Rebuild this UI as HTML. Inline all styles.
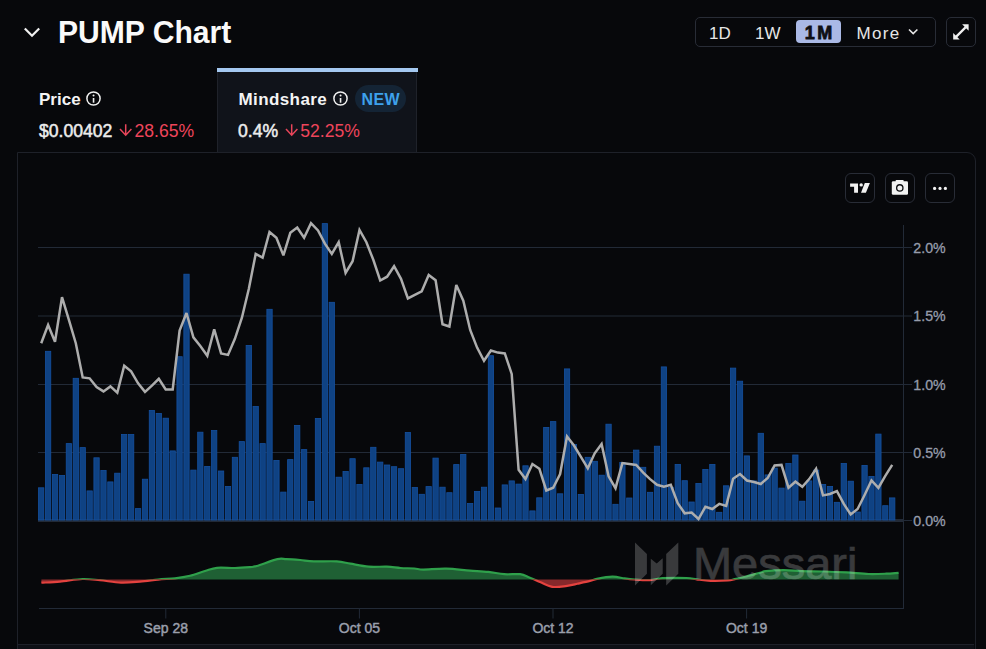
<!DOCTYPE html>
<html><head><meta charset="utf-8"><style>
html,body{margin:0;padding:0;}
body{width:986px;height:649px;overflow:hidden;background:#07080b;position:relative;font-family:"Liberation Sans",sans-serif;color:#f2f2f2;}
.a{position:absolute;white-space:nowrap;}
#title{left:57.5px;top:14.2px;font-size:32px;font-weight:bold;color:#fafafa;line-height:36px;transform:scaleX(0.94);transform-origin:0 0;}
#rg{left:695px;top:17px;width:239px;height:28px;border:1px solid #282c36;border-radius:5px;}
.rb{position:absolute;top:1.5px;height:28px;line-height:28px;font-size:17px;color:#e6e6e6;}
#m1{left:100px;top:2px;width:45px;height:23px;background:#aab9e6;border-radius:4px;color:#0e0f14;font-weight:bold;text-align:center;line-height:26px;font-size:18px;letter-spacing:2.6px;text-indent:2.6px;-webkit-text-stroke:0.8px #0e0f14;}
#exp{left:946px;top:17px;width:28px;height:28px;border:1px solid #282c36;border-radius:5px;}
#tab2{left:217px;top:68px;width:200px;height:84px;background:#10131a;border-left:1px solid #1f222a;border-right:1px solid #1f222a;box-sizing:border-box;}
#tab2bar{left:217px;top:68px;width:201px;height:4px;background:#a4c8f0;}
.lab{font-size:17px;font-weight:bold;color:#f4f4f4;}
.val{font-size:17.6px;color:#ededed;}
.wv{-webkit-text-stroke:0.5px #ededed;}
.red{color:#ee455b;}
#box{left:17px;top:152px;width:959px;height:520px;border:1px solid #1e2129;border-radius:0 9px 0 0;box-sizing:border-box;}
.tb{position:absolute;top:173px;width:28px;height:28px;border:1px solid #282c36;border-radius:6px;}
#newb{left:355px;top:85px;width:51px;height:27px;border-radius:14px;background:#142435;color:#3da1ec;font-weight:bold;font-size:16px;line-height:30.5px;text-align:center;letter-spacing:0.4px;text-indent:0.4px;}
</style></head><body>
<svg class="a" style="left:0;top:0" width="986" height="649">
<path d="M24.8,28.5 L32,35.8 L39.2,28.5" fill="none" stroke="#f0f0f0" stroke-width="2.2"/>
</svg>
<div class="a" id="title">PUMP Chart</div>
<div class="a" id="rg">
 <div class="rb" style="left:13px">1D</div>
 <div class="rb" style="left:59px">1W</div>
 <div class="rb" id="m1">1M</div>
 <div class="rb" style="left:160.5px;letter-spacing:1.3px">More</div>
 <svg class="a" style="left:212px;top:10px" width="12" height="8"><path d="M1,1.5 L5.2,5.6 L9.4,1.5" fill="none" stroke="#e6e6e6" stroke-width="1.6"/></svg>
</div>
<div class="a" id="exp"><svg width="28" height="28" style="position:absolute;left:0;top:0">
<path d="M9,18.9 L18.8,9.1" stroke="#f0f0f0" stroke-width="2.2"/>
<path d="M15.1,6.2 L21.6,6.2 L21.6,12.7 Z" fill="#f0f0f0"/>
<path d="M6.2,15.1 L6.2,21.6 L12.7,21.6 Z" fill="#f0f0f0"/>
</svg></div>

<div class="a" id="tab2"></div>
<div class="a" id="tab2bar"></div>
<div class="a lab" style="left:39px;top:90px">Price</div>
<svg class="a" style="left:86.2px;top:91.2px" width="15" height="15"><circle cx="7.5" cy="7.5" r="6.6" fill="none" stroke="#f0f0f0" stroke-width="1.5"/><rect x="6.75" y="7" width="1.6" height="4.7" fill="#f0f0f0"/><circle cx="7.55" cy="4.6" r="1" fill="#f0f0f0"/></svg>
<div class="a val wv" style="left:39px;top:120.5px">$0.00402</div>
<svg class="a" style="left:118px;top:122px" width="16" height="16"><path d="M7.7,2.2 V13.2 M2,7.1 L7.7,13.2 L13.4,7.1" fill="none" stroke="#e8455a" stroke-width="1.5"/></svg>
<div class="a val red" style="left:134.5px;top:120.5px">28.65%</div>
<div class="a lab" style="left:238.5px;top:90px;letter-spacing:0.4px">Mindshare</div>
<svg class="a" style="left:333.2px;top:91.2px" width="15" height="15"><circle cx="7.5" cy="7.5" r="6.6" fill="none" stroke="#f0f0f0" stroke-width="1.5"/><rect x="6.75" y="7" width="1.6" height="4.7" fill="#f0f0f0"/><circle cx="7.55" cy="4.6" r="1" fill="#f0f0f0"/></svg>
<div class="a" id="newb">NEW</div>
<div class="a val wv" style="left:238px;top:120.5px">0.4%</div>
<svg class="a" style="left:283.6px;top:122px" width="16" height="16"><path d="M7.7,2.2 V13.2 M2,7.1 L7.7,13.2 L13.4,7.1" fill="none" stroke="#e8455a" stroke-width="1.5"/></svg>
<div class="a val red" style="left:300.2px;top:120.5px">52.25%</div>

<div class="a" id="box"></div>
<div class="a" style="left:18px;top:644px;width:956px;height:1px;background:#1e2129"></div>
<div class="a" style="left:18px;top:645px;width:956px;height:4px;background:#0e1016"></div>

<div class="tb" style="left:845px"><svg width="28" height="28" style="position:absolute;left:0;top:0">
<path d="M4.1,9.4 H12 V18.8 H8.1 V12.8 H4.1 Z" fill="#f2f2f2"/><circle cx="15.2" cy="10.9" r="1.7" fill="#f2f2f2"/><path d="M18.8,9 H23.9 L19.9,18.8 H15 Z" fill="#f2f2f2"/>
</svg></div>
<div class="tb" style="left:885px"><svg width="28" height="28" style="position:absolute;left:0;top:0">
<rect x="5.8" y="7.3" width="16.2" height="13.5" rx="1.3" fill="#f2f2f2"/><rect x="9.6" y="5.9" width="8.1" height="2.5" rx="0.8" fill="#f2f2f2"/><circle cx="13.8" cy="13.9" r="3.8" fill="#0a0b0e"/><circle cx="13.8" cy="13.9" r="2.5" fill="#f2f2f2"/>
</svg></div>
<div class="tb" style="left:925px"><svg width="28" height="28" style="position:absolute;left:0;top:0">
<circle cx="8.6" cy="14.4" r="1.6" fill="#f2f2f2"/><circle cx="14" cy="14.4" r="1.6" fill="#f2f2f2"/><circle cx="19.4" cy="14.4" r="1.6" fill="#f2f2f2"/>
</svg></div>

<svg class="a" style="left:0;top:0" width="986" height="649">
<defs>
<clipPath id="above"><rect x="0" y="0" width="986" height="579.5"/></clipPath>
<clipPath id="below"><rect x="0" y="579.5" width="986" height="70"/></clipPath>
</defs>
<g stroke="#222a37" stroke-width="1"><line x1="38" y1="247.5" x2="912" y2="247.5"/><line x1="38" y1="316.0" x2="912" y2="316.0"/><line x1="38" y1="384.5" x2="912" y2="384.5"/><line x1="38" y1="452.5" x2="912" y2="452.5"/></g>
<line x1="903.5" y1="225" x2="903.5" y2="608.5" stroke="#222a37" stroke-width="1"/>
<line x1="39" y1="608.5" x2="904" y2="608.5" stroke="#222a37" stroke-width="1"/>
<g stroke="#222a37" stroke-width="1"><line x1="165.8" y1="608.5" x2="165.8" y2="618.5"/><line x1="359.4" y1="608.5" x2="359.4" y2="618.5"/><line x1="553.0" y1="608.5" x2="553.0" y2="618.5"/><line x1="746.6" y1="608.5" x2="746.6" y2="618.5"/></g>
<line x1="38" y1="520.5" x2="903" y2="520.5" stroke="#222a37" stroke-width="3"/>
<line x1="903" y1="520.5" x2="912" y2="520.5" stroke="#222a37" stroke-width="1"/>
<g fill="#0f4283" stroke="#1450a0" stroke-width="0.8"><rect x="38.55" y="487.8" width="5.30" height="32.2"/>
<rect x="45.47" y="351.3" width="5.30" height="168.7"/>
<rect x="52.39" y="474.4" width="5.30" height="45.6"/>
<rect x="59.31" y="475.5" width="5.30" height="44.5"/>
<rect x="66.23" y="443.6" width="5.30" height="76.4"/>
<rect x="73.15" y="378.3" width="5.30" height="141.7"/>
<rect x="80.06" y="447.6" width="5.30" height="72.4"/>
<rect x="86.98" y="490.9" width="5.30" height="29.1"/>
<rect x="93.90" y="457.8" width="5.30" height="62.2"/>
<rect x="100.82" y="470.4" width="5.30" height="49.6"/>
<rect x="107.74" y="481.9" width="5.30" height="38.1"/>
<rect x="114.66" y="473.2" width="5.30" height="46.8"/>
<rect x="121.58" y="434.5" width="5.30" height="85.5"/>
<rect x="128.50" y="434.5" width="5.30" height="85.5"/>
<rect x="135.42" y="508.6" width="5.30" height="11.4"/>
<rect x="142.34" y="479.2" width="5.30" height="40.8"/>
<rect x="149.25" y="410.5" width="5.30" height="109.5"/>
<rect x="156.17" y="413.4" width="5.30" height="106.6"/>
<rect x="163.09" y="418.2" width="5.30" height="101.8"/>
<rect x="170.01" y="450.9" width="5.30" height="69.1"/>
<rect x="176.93" y="356.7" width="5.30" height="163.3"/>
<rect x="183.85" y="274.2" width="5.30" height="245.8"/>
<rect x="190.77" y="470.1" width="5.30" height="49.9"/>
<rect x="197.69" y="432.2" width="5.30" height="87.8"/>
<rect x="204.61" y="466.4" width="5.30" height="53.6"/>
<rect x="211.53" y="430.5" width="5.30" height="89.5"/>
<rect x="218.44" y="471.0" width="5.30" height="49.0"/>
<rect x="225.36" y="486.4" width="5.30" height="33.6"/>
<rect x="232.28" y="457.3" width="5.30" height="62.7"/>
<rect x="239.20" y="441.6" width="5.30" height="78.4"/>
<rect x="246.12" y="345.4" width="5.30" height="174.6"/>
<rect x="253.04" y="406.5" width="5.30" height="113.5"/>
<rect x="259.96" y="443.6" width="5.30" height="76.4"/>
<rect x="266.88" y="309.3" width="5.30" height="210.7"/>
<rect x="273.80" y="460.4" width="5.30" height="59.6"/>
<rect x="280.71" y="492.1" width="5.30" height="27.9"/>
<rect x="287.63" y="459.6" width="5.30" height="60.4"/>
<rect x="294.55" y="425.4" width="5.30" height="94.6"/>
<rect x="301.47" y="449.6" width="5.30" height="70.4"/>
<rect x="308.39" y="501.4" width="5.30" height="18.6"/>
<rect x="315.31" y="418.5" width="5.30" height="101.5"/>
<rect x="322.23" y="223.6" width="5.30" height="296.4"/>
<rect x="329.15" y="302.3" width="5.30" height="217.7"/>
<rect x="336.07" y="477.2" width="5.30" height="42.8"/>
<rect x="342.99" y="471.5" width="5.30" height="48.5"/>
<rect x="349.90" y="458.7" width="5.30" height="61.3"/>
<rect x="356.82" y="484.4" width="5.30" height="35.6"/>
<rect x="363.74" y="467.8" width="5.30" height="52.2"/>
<rect x="370.66" y="447.3" width="5.30" height="72.7"/>
<rect x="377.58" y="462.1" width="5.30" height="57.9"/>
<rect x="384.50" y="465.0" width="5.30" height="55.0"/>
<rect x="391.42" y="466.7" width="5.30" height="53.3"/>
<rect x="398.34" y="468.7" width="5.30" height="51.3"/>
<rect x="405.26" y="432.5" width="5.30" height="87.5"/>
<rect x="412.18" y="487.5" width="5.30" height="32.5"/>
<rect x="419.09" y="494.3" width="5.30" height="25.7"/>
<rect x="426.01" y="486.6" width="5.30" height="33.4"/>
<rect x="432.93" y="458.1" width="5.30" height="61.9"/>
<rect x="439.85" y="487.2" width="5.30" height="32.8"/>
<rect x="446.77" y="492.7" width="5.30" height="27.3"/>
<rect x="453.69" y="464.6" width="5.30" height="55.4"/>
<rect x="460.61" y="454.4" width="5.30" height="65.6"/>
<rect x="467.53" y="503.5" width="5.30" height="16.5"/>
<rect x="474.45" y="491.5" width="5.30" height="28.5"/>
<rect x="481.37" y="487.2" width="5.30" height="32.8"/>
<rect x="488.28" y="355.7" width="5.30" height="164.3"/>
<rect x="495.20" y="508.0" width="5.30" height="12.0"/>
<rect x="502.12" y="484.9" width="5.30" height="35.1"/>
<rect x="509.04" y="480.9" width="5.30" height="39.1"/>
<rect x="515.96" y="484.1" width="5.30" height="35.9"/>
<rect x="522.88" y="465.8" width="5.30" height="54.2"/>
<rect x="529.80" y="510.9" width="5.30" height="9.1"/>
<rect x="536.72" y="497.8" width="5.30" height="22.2"/>
<rect x="543.64" y="427.4" width="5.30" height="92.6"/>
<rect x="550.56" y="421.6" width="5.30" height="98.4"/>
<rect x="557.47" y="493.8" width="5.30" height="26.2"/>
<rect x="564.39" y="368.9" width="5.30" height="151.1"/>
<rect x="571.31" y="444.4" width="5.30" height="75.6"/>
<rect x="578.23" y="494.4" width="5.30" height="25.6"/>
<rect x="585.15" y="457.3" width="5.30" height="62.7"/>
<rect x="592.07" y="461.3" width="5.30" height="58.7"/>
<rect x="598.99" y="475.2" width="5.30" height="44.8"/>
<rect x="605.91" y="424.2" width="5.30" height="95.8"/>
<rect x="612.83" y="504.3" width="5.30" height="15.7"/>
<rect x="619.75" y="462.4" width="5.30" height="57.6"/>
<rect x="626.66" y="498.0" width="5.30" height="22.0"/>
<rect x="633.58" y="450.1" width="5.30" height="69.9"/>
<rect x="640.50" y="467.3" width="5.30" height="52.7"/>
<rect x="647.42" y="492.3" width="5.30" height="27.7"/>
<rect x="654.34" y="446.2" width="5.30" height="73.8"/>
<rect x="661.26" y="366.9" width="5.30" height="153.1"/>
<rect x="668.18" y="487.2" width="5.30" height="32.8"/>
<rect x="675.10" y="464.4" width="5.30" height="55.6"/>
<rect x="682.02" y="480.7" width="5.30" height="39.3"/>
<rect x="688.94" y="502.0" width="5.30" height="18.0"/>
<rect x="695.85" y="483.5" width="5.30" height="36.5"/>
<rect x="702.77" y="469.5" width="5.30" height="50.5"/>
<rect x="709.69" y="464.4" width="5.30" height="55.6"/>
<rect x="716.61" y="512.3" width="5.30" height="7.7"/>
<rect x="723.53" y="485.8" width="5.30" height="34.2"/>
<rect x="730.45" y="368.1" width="5.30" height="151.9"/>
<rect x="737.37" y="381.2" width="5.30" height="138.8"/>
<rect x="744.29" y="455.9" width="5.30" height="64.1"/>
<rect x="751.21" y="480.9" width="5.30" height="39.1"/>
<rect x="758.13" y="433.3" width="5.30" height="86.7"/>
<rect x="765.04" y="474.9" width="5.30" height="45.1"/>
<rect x="771.96" y="468.1" width="5.30" height="51.9"/>
<rect x="778.88" y="488.1" width="5.30" height="31.9"/>
<rect x="785.80" y="463.5" width="5.30" height="56.5"/>
<rect x="792.72" y="455.0" width="5.30" height="65.0"/>
<rect x="799.64" y="501.2" width="5.30" height="18.8"/>
<rect x="806.56" y="480.9" width="5.30" height="39.1"/>
<rect x="813.48" y="470.1" width="5.30" height="49.9"/>
<rect x="820.40" y="484.4" width="5.30" height="35.6"/>
<rect x="827.32" y="486.4" width="5.30" height="33.6"/>
<rect x="834.23" y="502.3" width="5.30" height="17.7"/>
<rect x="841.15" y="463.5" width="5.30" height="56.5"/>
<rect x="848.07" y="481.2" width="5.30" height="38.8"/>
<rect x="854.99" y="512.0" width="5.30" height="8.0"/>
<rect x="861.91" y="465.4" width="5.30" height="54.6"/>
<rect x="868.83" y="476.4" width="5.30" height="43.6"/>
<rect x="875.75" y="434.1" width="5.30" height="85.9"/>
<rect x="882.67" y="505.7" width="5.30" height="14.3"/>
<rect x="889.59" y="497.9" width="5.30" height="22.1"/></g>
<polyline points="41.2,343.2 48.1,325.0 55.0,341.7 62.0,297.2 68.9,319.8 75.8,343.2 82.7,377.4 89.6,378.3 96.6,387.1 103.5,391.4 110.4,386.4 117.3,392.7 124.2,365.7 131.1,371.4 138.1,383.3 145.0,391.9 151.9,385.6 158.8,378.8 165.7,389.5 172.7,389.5 179.6,330.6 186.5,313.0 193.4,337.3 200.3,346.1 207.3,355.8 214.2,329.4 221.1,353.4 228.0,354.9 234.9,338.8 241.9,317.7 248.8,289.0 255.7,253.9 262.6,257.7 269.5,232.0 276.4,237.8 283.4,255.4 290.3,232.8 297.2,227.6 304.1,237.8 311.0,223.2 318.0,230.5 324.9,243.7 331.8,253.9 338.7,242.2 345.6,272.9 352.6,261.2 359.5,229.9 366.4,242.2 373.3,259.8 380.2,280.5 387.1,276.7 394.1,266.2 401.0,278.8 407.9,298.4 414.8,294.9 421.7,291.4 428.7,275.0 435.6,280.3 442.5,324.2 449.4,326.5 456.3,285.0 463.3,300.7 470.2,330.0 477.1,347.6 484.0,360.8 490.9,350.5 497.9,352.6 504.8,353.4 511.7,373.9 518.6,469.7 525.5,479.0 532.4,464.0 539.4,468.8 546.3,490.5 553.2,487.7 560.1,474.0 567.0,436.4 574.0,445.5 580.9,456.9 587.8,468.3 594.7,453.3 601.6,444.0 608.6,476.3 615.5,488.2 622.4,463.1 629.3,464.0 636.2,464.9 643.2,472.6 650.1,479.1 657.0,484.8 663.9,486.8 670.8,484.8 677.7,503.1 684.7,513.3 691.6,512.5 698.5,519.0 705.4,506.8 712.3,509.0 719.3,503.9 726.2,505.9 733.1,478.7 740.0,474.0 746.9,480.5 753.9,482.0 760.8,484.0 767.7,478.0 774.6,465.4 781.5,464.9 788.5,487.7 795.4,481.7 802.3,486.8 809.2,479.1 816.1,468.8 823.0,495.4 830.0,494.0 836.9,491.1 843.8,503.9 850.7,514.5 857.6,509.0 864.6,495.0 871.5,480.5 878.4,487.8 885.3,475.9 892.2,464.9" fill="none" stroke="#adadad" stroke-width="2.5" stroke-linejoin="miter" stroke-miterlimit="3"/>
<path d="M41.40,579.50 L41.40,579.50 L42.29,579.50 L43.38,579.50 L44.65,579.50 L46.08,579.50 L47.63,579.50 L49.29,579.50 L51.03,579.50 L52.82,579.50 L54.64,579.50 L56.46,579.50 L58.25,579.50 L60.00,579.50 L61.75,579.50 L63.58,579.50 L65.47,579.50 L67.40,579.50 L69.35,579.50 L71.32,579.50 L73.28,579.50 L75.23,579.50 L77.14,579.42 L78.99,579.23 L80.79,579.09 L82.50,579.00 L84.12,578.96 L85.67,578.97 L87.14,579.00 L88.57,579.07 L89.97,579.17 L91.34,579.29 L92.71,579.42 L94.09,579.50 L95.50,579.50 L96.94,579.50 L98.44,579.50 L100.00,579.50 L101.63,579.50 L103.32,579.50 L105.05,579.50 L106.81,579.50 L108.60,579.50 L110.41,579.50 L112.21,579.50 L114.02,579.50 L115.81,579.50 L117.58,579.50 L119.31,579.50 L121.00,579.50 L122.66,579.50 L124.29,579.50 L125.91,579.50 L127.52,579.50 L129.11,579.50 L130.69,579.50 L132.26,579.50 L133.81,579.50 L135.37,579.50 L136.91,579.50 L138.46,579.50 L140.00,579.50 L141.54,579.50 L143.07,579.50 L144.59,579.50 L146.11,579.50 L147.62,579.50 L149.12,579.50 L150.62,579.50 L152.11,579.50 L153.59,579.50 L155.07,579.50 L156.54,579.50 L158.00,579.50 L159.46,579.47 L160.91,579.36 L162.37,579.25 L163.81,579.16 L165.26,579.07 L166.69,578.98 L168.11,578.89 L169.52,578.80 L170.91,578.69 L172.29,578.58 L173.66,578.45 L175.00,578.30 L176.32,578.14 L177.62,577.98 L178.89,577.81 L180.15,577.64 L181.39,577.46 L182.62,577.27 L183.85,577.07 L185.07,576.85 L186.30,576.61 L187.52,576.36 L188.76,576.09 L190.00,575.80 L191.26,575.48 L192.53,575.11 L193.82,574.72 L195.11,574.31 L196.40,573.88 L197.69,573.44 L198.96,573.00 L200.22,572.57 L201.46,572.14 L202.67,571.73 L203.86,571.35 L205.00,571.00 L206.09,570.67 L207.10,570.33 L208.07,570.01 L209.00,569.69 L209.91,569.38 L210.81,569.09 L211.73,568.81 L212.67,568.56 L213.65,568.32 L214.69,568.12 L215.80,567.94 L217.00,567.80 L218.30,567.70 L219.69,567.65 L221.15,567.64 L222.67,567.66 L224.23,567.70 L225.81,567.76 L227.41,567.82 L229.00,567.89 L230.57,567.95 L232.10,567.99 L233.59,568.01 L235.00,568.00 L236.38,567.96 L237.77,567.92 L239.15,567.86 L240.53,567.79 L241.88,567.71 L243.20,567.63 L244.48,567.54 L245.72,567.46 L246.90,567.36 L248.01,567.27 L249.05,567.19 L250.00,567.10 L250.81,567.03 L251.45,567.00 L251.95,566.98 L252.36,566.96 L252.72,566.95 L253.05,566.92 L253.40,566.88 L253.81,566.80 L254.32,566.69 L254.96,566.52 L255.78,566.30 L256.80,566.00 L258.07,565.61 L259.57,565.11 L261.25,564.52 L263.07,563.87 L264.99,563.19 L266.96,562.48 L268.93,561.78 L270.87,561.10 L272.74,560.48 L274.47,559.92 L276.04,559.45 L277.40,559.10 L278.55,558.86 L279.53,558.69 L280.38,558.59 L281.11,558.56 L281.77,558.57 L282.38,558.61 L282.96,558.69 L283.55,558.78 L284.17,558.88 L284.85,558.97 L285.62,559.05 L286.50,559.10 L287.48,559.14 L288.52,559.19 L289.60,559.25 L290.73,559.31 L291.88,559.39 L293.06,559.46 L294.26,559.54 L295.46,559.63 L296.67,559.72 L297.86,559.81 L299.04,559.90 L300.20,560.00 L301.31,560.10 L302.38,560.22 L303.41,560.35 L304.43,560.48 L305.45,560.62 L306.48,560.76 L307.55,560.89 L308.66,561.02 L309.84,561.14 L311.09,561.24 L312.44,561.33 L313.90,561.40 L315.51,561.44 L317.28,561.45 L319.17,561.44 L321.16,561.42 L323.22,561.38 L325.30,561.34 L327.38,561.31 L329.44,561.28 L331.43,561.27 L333.32,561.28 L335.09,561.32 L336.70,561.40 L338.15,561.51 L339.46,561.64 L340.66,561.80 L341.77,561.97 L342.82,562.16 L343.83,562.36 L344.83,562.58 L345.83,562.80 L346.86,563.02 L347.96,563.25 L349.13,563.48 L350.40,563.70 L351.76,563.94 L353.18,564.19 L354.65,564.47 L356.16,564.76 L357.70,565.05 L359.27,565.34 L360.85,565.63 L362.44,565.90 L364.02,566.14 L365.60,566.37 L367.16,566.55 L368.70,566.70 L370.23,566.80 L371.79,566.86 L373.36,566.88 L374.94,566.87 L376.52,566.85 L378.09,566.81 L379.64,566.76 L381.17,566.71 L382.67,566.68 L384.13,566.66 L385.54,566.66 L386.90,566.70 L388.20,566.77 L389.44,566.85 L390.64,566.95 L391.80,567.07 L392.93,567.19 L394.03,567.32 L395.12,567.45 L396.20,567.58 L397.28,567.70 L398.37,567.81 L399.47,567.92 L400.60,568.00 L401.76,568.07 L402.94,568.12 L404.13,568.17 L405.34,568.20 L406.54,568.23 L407.74,568.26 L408.92,568.29 L410.07,568.32 L411.20,568.35 L412.28,568.39 L413.32,568.44 L414.30,568.50 L415.18,568.58 L415.92,568.67 L416.58,568.78 L417.16,568.90 L417.72,569.02 L418.28,569.14 L418.86,569.25 L419.51,569.36 L420.26,569.45 L421.14,569.53 L422.17,569.58 L423.40,569.60 L424.82,569.59 L426.41,569.53 L428.14,569.45 L429.98,569.34 L431.92,569.22 L433.94,569.10 L436.00,568.98 L438.10,568.87 L440.20,568.78 L442.28,568.71 L444.32,568.68 L446.30,568.70 L448.26,568.76 L450.27,568.86 L452.30,568.99 L454.34,569.15 L456.39,569.32 L458.44,569.51 L460.47,569.71 L462.47,569.91 L464.44,570.10 L466.35,570.29 L468.21,570.45 L470.00,570.60 L471.72,570.73 L473.39,570.84 L475.01,570.94 L476.59,571.04 L478.13,571.13 L479.64,571.22 L481.12,571.32 L482.58,571.41 L484.02,571.52 L485.45,571.63 L486.88,571.76 L488.30,571.90 L489.71,572.06 L491.09,572.25 L492.44,572.46 L493.77,572.68 L495.09,572.90 L496.39,573.13 L497.69,573.35 L498.98,573.57 L500.27,573.76 L501.57,573.94 L502.88,574.09 L504.20,574.20 L505.55,574.27 L506.94,574.30 L508.35,574.29 L509.78,574.25 L511.21,574.20 L512.62,574.14 L514.02,574.09 L515.37,574.05 L516.68,574.03 L517.93,574.04 L519.11,574.10 L520.20,574.20 L521.19,574.35 L522.10,574.53 L522.92,574.74 L523.69,574.98 L524.40,575.24 L525.08,575.51 L525.74,575.81 L526.40,576.11 L527.07,576.43 L527.77,576.75 L528.51,577.07 L529.30,577.40 L530.13,577.73 L530.97,578.08 L531.83,578.45 L532.69,578.82 L533.57,579.21 L534.46,579.50 L535.35,579.50 L536.26,579.50 L537.18,579.50 L538.11,579.50 L539.05,579.50 L540.00,579.50 L540.96,579.50 L541.93,579.50 L542.91,579.50 L543.90,579.50 L544.91,579.50 L545.92,579.50 L546.94,579.50 L547.97,579.50 L549.02,579.50 L550.07,579.50 L551.13,579.50 L552.20,579.50 L553.29,579.50 L554.41,579.50 L555.55,579.50 L556.71,579.50 L557.87,579.50 L559.04,579.50 L560.21,579.50 L561.37,579.50 L562.51,579.50 L563.64,579.50 L564.74,579.50 L565.80,579.50 L566.83,579.50 L567.82,579.50 L568.79,579.50 L569.74,579.50 L570.68,579.50 L571.61,579.50 L572.53,579.50 L573.46,579.50 L574.39,579.50 L575.34,579.50 L576.31,579.50 L577.30,579.50 L578.33,579.50 L579.41,579.50 L580.53,579.50 L581.66,579.50 L582.80,579.50 L583.94,579.50 L585.06,579.50 L586.15,579.50 L587.20,579.50 L588.21,579.50 L589.14,579.50 L590.00,579.50 L590.75,579.50 L591.39,579.50 L591.93,579.50 L592.41,579.50 L592.85,579.50 L593.27,579.50 L593.71,579.50 L594.18,579.47 L594.71,579.31 L595.32,579.14 L596.04,578.97 L596.90,578.80 L597.90,578.61 L599.03,578.41 L600.25,578.19 L601.56,577.96 L602.92,577.73 L604.32,577.51 L605.75,577.31 L607.17,577.12 L608.56,576.96 L609.91,576.83 L611.20,576.74 L612.40,576.70 L613.53,576.71 L614.63,576.77 L615.71,576.87 L616.75,577.01 L617.77,577.17 L618.77,577.35 L619.76,577.54 L620.73,577.74 L621.68,577.93 L622.63,578.11 L623.57,578.27 L624.50,578.40 L625.41,578.51 L626.26,578.62 L627.09,578.73 L627.89,578.83 L628.67,578.93 L629.46,579.02 L630.25,579.11 L631.07,579.19 L631.92,579.27 L632.82,579.35 L633.78,579.43 L634.80,579.50 L635.90,579.50 L637.08,579.50 L638.32,579.50 L639.61,579.50 L640.93,579.50 L642.27,579.50 L643.62,579.50 L644.96,579.50 L646.28,579.50 L647.57,579.50 L648.82,579.50 L650.00,579.50 L651.09,579.50 L652.09,579.50 L653.02,579.50 L653.90,579.50 L654.77,579.40 L655.64,579.20 L656.54,579.00 L657.50,578.80 L658.54,578.61 L659.68,578.45 L660.96,578.31 L662.40,578.20 L664.05,578.12 L665.91,578.05 L667.95,577.99 L670.11,577.95 L672.36,577.92 L674.64,577.89 L676.92,577.88 L679.14,577.89 L681.26,577.90 L683.25,577.92 L685.04,577.96 L686.60,578.00 L687.92,578.06 L689.05,578.14 L690.02,578.24 L690.87,578.34 L691.61,578.46 L692.29,578.59 L692.93,578.73 L693.57,578.87 L694.23,579.01 L694.95,579.14 L695.77,579.27 L696.70,579.40 L697.72,579.50 L698.77,579.50 L699.85,579.50 L700.96,579.50 L702.09,579.50 L703.26,579.50 L704.44,579.50 L705.65,579.50 L706.88,579.50 L708.14,579.50 L709.41,579.50 L710.70,579.50 L712.05,579.50 L713.50,579.50 L715.02,579.50 L716.58,579.50 L718.16,579.50 L719.74,579.50 L721.30,579.50 L722.81,579.50 L724.25,579.50 L725.59,579.50 L726.82,579.50 L727.90,579.50 L728.82,579.50 L729.61,579.50 L730.27,579.50 L730.83,579.50 L731.33,579.50 L731.77,579.50 L732.20,579.50 L732.62,579.50 L733.07,579.50 L733.57,579.40 L734.14,579.25 L734.80,579.10 L735.53,578.94 L736.28,578.78 L737.05,578.61 L737.84,578.43 L738.66,578.25 L739.51,578.06 L740.38,577.86 L741.28,577.65 L742.21,577.43 L743.17,577.20 L744.17,576.96 L745.20,576.70 L746.31,576.42 L747.52,576.11 L748.80,575.78 L750.14,575.43 L751.51,575.07 L752.88,574.71 L754.24,574.34 L755.56,573.99 L756.82,573.66 L758.00,573.34 L759.06,573.05 L760.00,572.80 L760.77,572.58 L761.36,572.38 L761.82,572.20 L762.19,572.04 L762.49,571.90 L762.76,571.76 L763.05,571.64 L763.38,571.53 L763.80,571.42 L764.33,571.31 L765.02,571.21 L765.90,571.10 L766.97,570.99 L768.18,570.88 L769.51,570.78 L770.95,570.67 L772.47,570.58 L774.05,570.49 L775.67,570.41 L777.32,570.34 L778.96,570.28 L780.59,570.24 L782.18,570.21 L783.70,570.20 L785.17,570.21 L786.63,570.25 L788.06,570.31 L789.50,570.39 L790.93,570.47 L792.37,570.57 L793.82,570.67 L795.30,570.77 L796.81,570.87 L798.36,570.96 L799.95,571.04 L801.60,571.10 L803.30,571.15 L805.06,571.19 L806.87,571.22 L808.71,571.25 L810.58,571.28 L812.47,571.30 L814.39,571.32 L816.30,571.35 L818.22,571.38 L820.13,571.41 L822.03,571.45 L823.90,571.50 L825.76,571.56 L827.62,571.61 L829.47,571.67 L831.33,571.74 L833.19,571.80 L835.05,571.88 L836.91,571.95 L838.77,572.03 L840.62,572.11 L842.48,572.20 L844.34,572.30 L846.20,572.40 L848.07,572.51 L849.97,572.65 L851.88,572.80 L853.80,572.95 L855.72,573.11 L857.63,573.27 L859.53,573.43 L861.40,573.58 L863.24,573.72 L865.04,573.84 L866.80,573.93 L868.50,574.00 L870.16,574.04 L871.79,574.07 L873.40,574.07 L874.97,574.06 L876.51,574.04 L878.02,574.01 L879.50,573.96 L880.94,573.91 L882.34,573.86 L883.70,573.81 L885.02,573.75 L886.30,573.70 L887.56,573.64 L888.81,573.57 L890.05,573.50 L891.26,573.41 L892.44,573.32 L893.56,573.23 L894.63,573.14 L895.61,573.06 L896.52,572.98 L897.33,572.90 L898.02,572.85 L898.60,572.80 L898.60,579.50 Z" fill="#1f6034"/><path d="M41.40,579.50 L41.40,582.70 L42.29,582.65 L43.38,582.60 L44.65,582.54 L46.08,582.47 L47.63,582.40 L49.29,582.31 L51.03,582.22 L52.82,582.12 L54.64,582.01 L56.46,581.88 L58.25,581.75 L60.00,581.60 L61.75,581.42 L63.58,581.21 L65.47,580.97 L67.40,580.70 L69.35,580.43 L71.32,580.16 L73.28,579.89 L75.23,579.64 L77.14,579.50 L78.99,579.50 L80.79,579.50 L82.50,579.50 L84.12,579.50 L85.67,579.50 L87.14,579.50 L88.57,579.50 L89.97,579.50 L91.34,579.50 L92.71,579.50 L94.09,579.57 L95.50,579.73 L96.94,579.89 L98.44,580.05 L100.00,580.20 L101.63,580.37 L103.32,580.57 L105.05,580.80 L106.81,581.04 L108.60,581.29 L110.41,581.54 L112.21,581.78 L114.02,582.01 L115.81,582.21 L117.58,582.38 L119.31,582.52 L121.00,582.60 L122.66,582.64 L124.29,582.64 L125.91,582.61 L127.52,582.56 L129.11,582.47 L130.69,582.38 L132.26,582.26 L133.81,582.13 L135.37,582.00 L136.91,581.86 L138.46,581.73 L140.00,581.60 L141.54,581.47 L143.07,581.32 L144.59,581.15 L146.11,580.98 L147.62,580.80 L149.12,580.62 L150.62,580.43 L152.11,580.25 L153.59,580.07 L155.07,579.90 L156.54,579.75 L158.00,579.60 L159.46,579.50 L160.91,579.50 L162.37,579.50 L163.81,579.50 L165.26,579.50 L166.69,579.50 L168.11,579.50 L169.52,579.50 L170.91,579.50 L172.29,579.50 L173.66,579.50 L175.00,579.50 L176.32,579.50 L177.62,579.50 L178.89,579.50 L180.15,579.50 L181.39,579.50 L182.62,579.50 L183.85,579.50 L185.07,579.50 L186.30,579.50 L187.52,579.50 L188.76,579.50 L190.00,579.50 L191.26,579.50 L192.53,579.50 L193.82,579.50 L195.11,579.50 L196.40,579.50 L197.69,579.50 L198.96,579.50 L200.22,579.50 L201.46,579.50 L202.67,579.50 L203.86,579.50 L205.00,579.50 L206.09,579.50 L207.10,579.50 L208.07,579.50 L209.00,579.50 L209.91,579.50 L210.81,579.50 L211.73,579.50 L212.67,579.50 L213.65,579.50 L214.69,579.50 L215.80,579.50 L217.00,579.50 L218.30,579.50 L219.69,579.50 L221.15,579.50 L222.67,579.50 L224.23,579.50 L225.81,579.50 L227.41,579.50 L229.00,579.50 L230.57,579.50 L232.10,579.50 L233.59,579.50 L235.00,579.50 L236.38,579.50 L237.77,579.50 L239.15,579.50 L240.53,579.50 L241.88,579.50 L243.20,579.50 L244.48,579.50 L245.72,579.50 L246.90,579.50 L248.01,579.50 L249.05,579.50 L250.00,579.50 L250.81,579.50 L251.45,579.50 L251.95,579.50 L252.36,579.50 L252.72,579.50 L253.05,579.50 L253.40,579.50 L253.81,579.50 L254.32,579.50 L254.96,579.50 L255.78,579.50 L256.80,579.50 L258.07,579.50 L259.57,579.50 L261.25,579.50 L263.07,579.50 L264.99,579.50 L266.96,579.50 L268.93,579.50 L270.87,579.50 L272.74,579.50 L274.47,579.50 L276.04,579.50 L277.40,579.50 L278.55,579.50 L279.53,579.50 L280.38,579.50 L281.11,579.50 L281.77,579.50 L282.38,579.50 L282.96,579.50 L283.55,579.50 L284.17,579.50 L284.85,579.50 L285.62,579.50 L286.50,579.50 L287.48,579.50 L288.52,579.50 L289.60,579.50 L290.73,579.50 L291.88,579.50 L293.06,579.50 L294.26,579.50 L295.46,579.50 L296.67,579.50 L297.86,579.50 L299.04,579.50 L300.20,579.50 L301.31,579.50 L302.38,579.50 L303.41,579.50 L304.43,579.50 L305.45,579.50 L306.48,579.50 L307.55,579.50 L308.66,579.50 L309.84,579.50 L311.09,579.50 L312.44,579.50 L313.90,579.50 L315.51,579.50 L317.28,579.50 L319.17,579.50 L321.16,579.50 L323.22,579.50 L325.30,579.50 L327.38,579.50 L329.44,579.50 L331.43,579.50 L333.32,579.50 L335.09,579.50 L336.70,579.50 L338.15,579.50 L339.46,579.50 L340.66,579.50 L341.77,579.50 L342.82,579.50 L343.83,579.50 L344.83,579.50 L345.83,579.50 L346.86,579.50 L347.96,579.50 L349.13,579.50 L350.40,579.50 L351.76,579.50 L353.18,579.50 L354.65,579.50 L356.16,579.50 L357.70,579.50 L359.27,579.50 L360.85,579.50 L362.44,579.50 L364.02,579.50 L365.60,579.50 L367.16,579.50 L368.70,579.50 L370.23,579.50 L371.79,579.50 L373.36,579.50 L374.94,579.50 L376.52,579.50 L378.09,579.50 L379.64,579.50 L381.17,579.50 L382.67,579.50 L384.13,579.50 L385.54,579.50 L386.90,579.50 L388.20,579.50 L389.44,579.50 L390.64,579.50 L391.80,579.50 L392.93,579.50 L394.03,579.50 L395.12,579.50 L396.20,579.50 L397.28,579.50 L398.37,579.50 L399.47,579.50 L400.60,579.50 L401.76,579.50 L402.94,579.50 L404.13,579.50 L405.34,579.50 L406.54,579.50 L407.74,579.50 L408.92,579.50 L410.07,579.50 L411.20,579.50 L412.28,579.50 L413.32,579.50 L414.30,579.50 L415.18,579.50 L415.92,579.50 L416.58,579.50 L417.16,579.50 L417.72,579.50 L418.28,579.50 L418.86,579.50 L419.51,579.50 L420.26,579.50 L421.14,579.50 L422.17,579.50 L423.40,579.50 L424.82,579.50 L426.41,579.50 L428.14,579.50 L429.98,579.50 L431.92,579.50 L433.94,579.50 L436.00,579.50 L438.10,579.50 L440.20,579.50 L442.28,579.50 L444.32,579.50 L446.30,579.50 L448.26,579.50 L450.27,579.50 L452.30,579.50 L454.34,579.50 L456.39,579.50 L458.44,579.50 L460.47,579.50 L462.47,579.50 L464.44,579.50 L466.35,579.50 L468.21,579.50 L470.00,579.50 L471.72,579.50 L473.39,579.50 L475.01,579.50 L476.59,579.50 L478.13,579.50 L479.64,579.50 L481.12,579.50 L482.58,579.50 L484.02,579.50 L485.45,579.50 L486.88,579.50 L488.30,579.50 L489.71,579.50 L491.09,579.50 L492.44,579.50 L493.77,579.50 L495.09,579.50 L496.39,579.50 L497.69,579.50 L498.98,579.50 L500.27,579.50 L501.57,579.50 L502.88,579.50 L504.20,579.50 L505.55,579.50 L506.94,579.50 L508.35,579.50 L509.78,579.50 L511.21,579.50 L512.62,579.50 L514.02,579.50 L515.37,579.50 L516.68,579.50 L517.93,579.50 L519.11,579.50 L520.20,579.50 L521.19,579.50 L522.10,579.50 L522.92,579.50 L523.69,579.50 L524.40,579.50 L525.08,579.50 L525.74,579.50 L526.40,579.50 L527.07,579.50 L527.77,579.50 L528.51,579.50 L529.30,579.50 L530.13,579.50 L530.97,579.50 L531.83,579.50 L532.69,579.50 L533.57,579.50 L534.46,579.60 L535.35,580.00 L536.26,580.40 L537.18,580.80 L538.11,581.21 L539.05,581.61 L540.00,582.00 L540.96,582.41 L541.93,582.85 L542.91,583.31 L543.90,583.79 L544.91,584.26 L545.92,584.73 L546.94,585.18 L547.97,585.60 L549.02,585.98 L550.07,586.32 L551.13,586.59 L552.20,586.80 L553.29,586.94 L554.41,587.02 L555.55,587.05 L556.71,587.03 L557.87,586.98 L559.04,586.89 L560.21,586.78 L561.37,586.66 L562.51,586.52 L563.64,586.37 L564.74,586.23 L565.80,586.10 L566.83,585.97 L567.82,585.82 L568.79,585.65 L569.74,585.47 L570.68,585.29 L571.61,585.09 L572.53,584.88 L573.46,584.67 L574.39,584.45 L575.34,584.24 L576.31,584.02 L577.30,583.80 L578.33,583.58 L579.41,583.34 L580.53,583.10 L581.66,582.85 L582.80,582.59 L583.94,582.34 L585.06,582.08 L586.15,581.83 L587.20,581.58 L588.21,581.34 L589.14,581.12 L590.00,580.90 L590.75,580.70 L591.39,580.50 L591.93,580.32 L592.41,580.14 L592.85,579.97 L593.27,579.80 L593.71,579.63 L594.18,579.50 L594.71,579.50 L595.32,579.50 L596.04,579.50 L596.90,579.50 L597.90,579.50 L599.03,579.50 L600.25,579.50 L601.56,579.50 L602.92,579.50 L604.32,579.50 L605.75,579.50 L607.17,579.50 L608.56,579.50 L609.91,579.50 L611.20,579.50 L612.40,579.50 L613.53,579.50 L614.63,579.50 L615.71,579.50 L616.75,579.50 L617.77,579.50 L618.77,579.50 L619.76,579.50 L620.73,579.50 L621.68,579.50 L622.63,579.50 L623.57,579.50 L624.50,579.50 L625.41,579.50 L626.26,579.50 L627.09,579.50 L627.89,579.50 L628.67,579.50 L629.46,579.50 L630.25,579.50 L631.07,579.50 L631.92,579.50 L632.82,579.50 L633.78,579.50 L634.80,579.50 L635.90,579.58 L637.08,579.66 L638.32,579.74 L639.61,579.83 L640.93,579.91 L642.27,579.99 L643.62,580.05 L644.96,580.10 L646.28,580.14 L647.57,580.15 L648.82,580.14 L650.00,580.10 L651.09,580.02 L652.09,579.91 L653.02,579.76 L653.90,579.59 L654.77,579.50 L655.64,579.50 L656.54,579.50 L657.50,579.50 L658.54,579.50 L659.68,579.50 L660.96,579.50 L662.40,579.50 L664.05,579.50 L665.91,579.50 L667.95,579.50 L670.11,579.50 L672.36,579.50 L674.64,579.50 L676.92,579.50 L679.14,579.50 L681.26,579.50 L683.25,579.50 L685.04,579.50 L686.60,579.50 L687.92,579.50 L689.05,579.50 L690.02,579.50 L690.87,579.50 L691.61,579.50 L692.29,579.50 L692.93,579.50 L693.57,579.50 L694.23,579.50 L694.95,579.50 L695.77,579.50 L696.70,579.50 L697.72,579.53 L698.77,579.67 L699.85,579.81 L700.96,579.96 L702.09,580.11 L703.26,580.26 L704.44,580.40 L705.65,580.54 L706.88,580.66 L708.14,580.76 L709.41,580.84 L710.70,580.90 L712.05,580.94 L713.50,580.95 L715.02,580.96 L716.58,580.94 L718.16,580.92 L719.74,580.88 L721.30,580.83 L722.81,580.78 L724.25,580.71 L725.59,580.65 L726.82,580.57 L727.90,580.50 L728.82,580.42 L729.61,580.34 L730.27,580.24 L730.83,580.14 L731.33,580.04 L731.77,579.93 L732.20,579.80 L732.62,579.68 L733.07,579.54 L733.57,579.50 L734.14,579.50 L734.80,579.50 L735.53,579.50 L736.28,579.50 L737.05,579.50 L737.84,579.50 L738.66,579.50 L739.51,579.50 L740.38,579.50 L741.28,579.50 L742.21,579.50 L743.17,579.50 L744.17,579.50 L745.20,579.50 L746.31,579.50 L747.52,579.50 L748.80,579.50 L750.14,579.50 L751.51,579.50 L752.88,579.50 L754.24,579.50 L755.56,579.50 L756.82,579.50 L758.00,579.50 L759.06,579.50 L760.00,579.50 L760.77,579.50 L761.36,579.50 L761.82,579.50 L762.19,579.50 L762.49,579.50 L762.76,579.50 L763.05,579.50 L763.38,579.50 L763.80,579.50 L764.33,579.50 L765.02,579.50 L765.90,579.50 L766.97,579.50 L768.18,579.50 L769.51,579.50 L770.95,579.50 L772.47,579.50 L774.05,579.50 L775.67,579.50 L777.32,579.50 L778.96,579.50 L780.59,579.50 L782.18,579.50 L783.70,579.50 L785.17,579.50 L786.63,579.50 L788.06,579.50 L789.50,579.50 L790.93,579.50 L792.37,579.50 L793.82,579.50 L795.30,579.50 L796.81,579.50 L798.36,579.50 L799.95,579.50 L801.60,579.50 L803.30,579.50 L805.06,579.50 L806.87,579.50 L808.71,579.50 L810.58,579.50 L812.47,579.50 L814.39,579.50 L816.30,579.50 L818.22,579.50 L820.13,579.50 L822.03,579.50 L823.90,579.50 L825.76,579.50 L827.62,579.50 L829.47,579.50 L831.33,579.50 L833.19,579.50 L835.05,579.50 L836.91,579.50 L838.77,579.50 L840.62,579.50 L842.48,579.50 L844.34,579.50 L846.20,579.50 L848.07,579.50 L849.97,579.50 L851.88,579.50 L853.80,579.50 L855.72,579.50 L857.63,579.50 L859.53,579.50 L861.40,579.50 L863.24,579.50 L865.04,579.50 L866.80,579.50 L868.50,579.50 L870.16,579.50 L871.79,579.50 L873.40,579.50 L874.97,579.50 L876.51,579.50 L878.02,579.50 L879.50,579.50 L880.94,579.50 L882.34,579.50 L883.70,579.50 L885.02,579.50 L886.30,579.50 L887.56,579.50 L888.81,579.50 L890.05,579.50 L891.26,579.50 L892.44,579.50 L893.56,579.50 L894.63,579.50 L895.61,579.50 L896.52,579.50 L897.33,579.50 L898.02,579.50 L898.60,579.50 L898.60,579.50 Z" fill="#86282b"/>
<g clip-path="url(#above)"><path d="M41.4,582.7 C44.5,582.5 53.1,582.2 60.0,581.6 C66.8,581.0 75.8,579.2 82.5,579.0 C89.2,578.8 93.6,579.6 100.0,580.2 C106.4,580.8 114.3,582.4 121.0,582.6 C127.7,582.8 133.8,582.1 140.0,581.6 C146.2,581.1 152.2,580.2 158.0,579.6 C163.8,579.0 169.7,578.9 175.0,578.3 C180.3,577.7 185.0,577.0 190.0,575.8 C195.0,574.6 200.5,572.3 205.0,571.0 C209.5,569.7 212.0,568.3 217.0,567.8 C222.0,567.3 229.5,568.1 235.0,568.0 C240.5,567.9 246.4,567.4 250.0,567.1 C253.6,566.8 252.2,567.3 256.8,566.0 C261.4,564.7 272.4,560.2 277.4,559.1 C282.3,558.0 282.7,559.0 286.5,559.1 C290.3,559.2 295.6,559.6 300.2,560.0 C304.8,560.4 307.8,561.2 313.9,561.4 C320.0,561.6 330.6,561.0 336.7,561.4 C342.8,561.8 345.1,562.8 350.4,563.7 C355.7,564.6 362.6,566.2 368.7,566.7 C374.8,567.2 381.6,566.5 386.9,566.7 C392.2,566.9 396.0,567.7 400.6,568.0 C405.2,568.3 410.5,568.2 414.3,568.5 C418.1,568.8 418.1,569.6 423.4,569.6 C428.7,569.6 438.5,568.5 446.3,568.7 C454.1,568.9 463.0,570.1 470.0,570.6 C477.0,571.1 482.6,571.3 488.3,571.9 C494.0,572.5 498.9,573.8 504.2,574.2 C509.5,574.6 516.0,573.7 520.2,574.2 C524.4,574.7 526.0,576.1 529.3,577.4 C532.6,578.7 536.2,580.4 540.0,582.0 C543.8,583.6 547.9,586.1 552.2,586.8 C556.5,587.5 561.6,586.6 565.8,586.1 C570.0,585.6 573.3,584.7 577.3,583.8 C581.3,582.9 586.7,581.7 590.0,580.9 C593.3,580.1 593.2,579.5 596.9,578.8 C600.6,578.1 607.8,576.8 612.4,576.7 C617.0,576.6 620.8,577.9 624.5,578.4 C628.2,578.9 630.5,579.2 634.8,579.5 C639.0,579.8 645.4,580.3 650.0,580.1 C654.6,579.9 656.3,578.6 662.4,578.2 C668.5,577.9 680.9,577.8 686.6,578.0 C692.3,578.2 692.7,578.9 696.7,579.4 C700.7,579.9 705.5,580.7 710.7,580.9 C715.9,581.1 723.9,580.8 727.9,580.5 C731.9,580.2 731.9,579.7 734.8,579.1 C737.7,578.5 741.0,577.8 745.2,576.7 C749.4,575.7 756.5,573.7 760.0,572.8 C763.5,571.9 761.9,571.5 765.9,571.1 C769.9,570.7 777.8,570.2 783.7,570.2 C789.7,570.2 794.9,570.9 801.6,571.1 C808.3,571.3 816.5,571.3 823.9,571.5 C831.3,571.7 838.8,572.0 846.2,572.4 C853.6,572.8 861.8,573.8 868.5,574.0 C875.2,574.2 881.3,573.9 886.3,573.7 C891.3,573.5 896.5,572.9 898.6,572.8" fill="none" stroke="#2fa04b" stroke-width="2.2"/></g>
<g clip-path="url(#below)"><path d="M41.4,582.7 C44.5,582.5 53.1,582.2 60.0,581.6 C66.8,581.0 75.8,579.2 82.5,579.0 C89.2,578.8 93.6,579.6 100.0,580.2 C106.4,580.8 114.3,582.4 121.0,582.6 C127.7,582.8 133.8,582.1 140.0,581.6 C146.2,581.1 152.2,580.2 158.0,579.6 C163.8,579.0 169.7,578.9 175.0,578.3 C180.3,577.7 185.0,577.0 190.0,575.8 C195.0,574.6 200.5,572.3 205.0,571.0 C209.5,569.7 212.0,568.3 217.0,567.8 C222.0,567.3 229.5,568.1 235.0,568.0 C240.5,567.9 246.4,567.4 250.0,567.1 C253.6,566.8 252.2,567.3 256.8,566.0 C261.4,564.7 272.4,560.2 277.4,559.1 C282.3,558.0 282.7,559.0 286.5,559.1 C290.3,559.2 295.6,559.6 300.2,560.0 C304.8,560.4 307.8,561.2 313.9,561.4 C320.0,561.6 330.6,561.0 336.7,561.4 C342.8,561.8 345.1,562.8 350.4,563.7 C355.7,564.6 362.6,566.2 368.7,566.7 C374.8,567.2 381.6,566.5 386.9,566.7 C392.2,566.9 396.0,567.7 400.6,568.0 C405.2,568.3 410.5,568.2 414.3,568.5 C418.1,568.8 418.1,569.6 423.4,569.6 C428.7,569.6 438.5,568.5 446.3,568.7 C454.1,568.9 463.0,570.1 470.0,570.6 C477.0,571.1 482.6,571.3 488.3,571.9 C494.0,572.5 498.9,573.8 504.2,574.2 C509.5,574.6 516.0,573.7 520.2,574.2 C524.4,574.7 526.0,576.1 529.3,577.4 C532.6,578.7 536.2,580.4 540.0,582.0 C543.8,583.6 547.9,586.1 552.2,586.8 C556.5,587.5 561.6,586.6 565.8,586.1 C570.0,585.6 573.3,584.7 577.3,583.8 C581.3,582.9 586.7,581.7 590.0,580.9 C593.3,580.1 593.2,579.5 596.9,578.8 C600.6,578.1 607.8,576.8 612.4,576.7 C617.0,576.6 620.8,577.9 624.5,578.4 C628.2,578.9 630.5,579.2 634.8,579.5 C639.0,579.8 645.4,580.3 650.0,580.1 C654.6,579.9 656.3,578.6 662.4,578.2 C668.5,577.9 680.9,577.8 686.6,578.0 C692.3,578.2 692.7,578.9 696.7,579.4 C700.7,579.9 705.5,580.7 710.7,580.9 C715.9,581.1 723.9,580.8 727.9,580.5 C731.9,580.2 731.9,579.7 734.8,579.1 C737.7,578.5 741.0,577.8 745.2,576.7 C749.4,575.7 756.5,573.7 760.0,572.8 C763.5,571.9 761.9,571.5 765.9,571.1 C769.9,570.7 777.8,570.2 783.7,570.2 C789.7,570.2 794.9,570.9 801.6,571.1 C808.3,571.3 816.5,571.3 823.9,571.5 C831.3,571.7 838.8,572.0 846.2,572.4 C853.6,572.8 861.8,573.8 868.5,574.0 C875.2,574.2 881.3,573.9 886.3,573.7 C891.3,573.5 896.5,572.9 898.6,572.8" fill="none" stroke="#e4423f" stroke-width="2.2"/></g>
<g fill="#969cab" stroke="#969cab" stroke-width="0.3" font-family="Liberation Sans" font-size="14.2"><text x="913.3" y="525.9">0.0%</text><text x="913.3" y="457.9">0.5%</text><text x="913.3" y="389.9">1.0%</text><text x="913.3" y="321.4">1.5%</text><text x="913.3" y="252.9">2.0%</text></g>
<g fill="#9a9fab" stroke="#9a9fab" stroke-width="0.45" font-family="Liberation Sans" font-size="14" text-anchor="middle"><text x="165.8" y="633">Sep 28</text><text x="359.4" y="633">Oct 05</text><text x="553.0" y="633">Oct 12</text><text x="746.6" y="633">Oct 19</text></g>
<g fill="#ffffff" opacity="0.2">
<path d="M635,542.5 L646.9,553.9 L646.9,573.7 L635,585.5 Z"/>
<path d="M650.8,558.7 L656.7,563.6 L662.7,558.3 L662.7,573.7 L650.8,585.3 Z"/>
<path d="M666.2,553.9 L678.3,542.5 L678.3,573.7 L666.2,585.5 Z"/>
<text transform="translate(693,578.8) scale(1.055,1)" x="0" y="0" font-family="Liberation Sans" font-size="44.5" stroke="#ffffff" stroke-width="0.6">Messari</text>
</g>
</svg>
</body></html>
